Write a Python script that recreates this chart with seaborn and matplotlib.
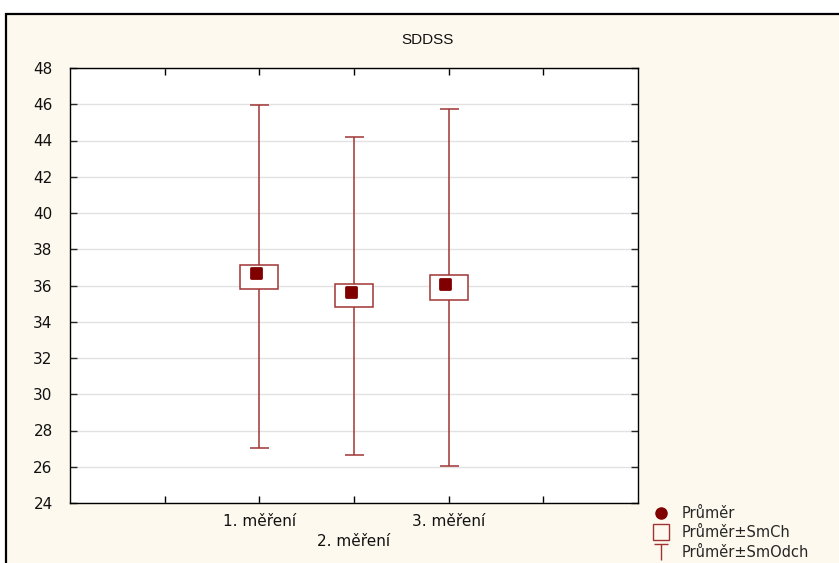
import numpy as np
import pandas as pd
import matplotlib
matplotlib.use("Agg")
import matplotlib.pyplot as plt
import matplotlib.transforms as mtransforms
from matplotlib.patches import Rectangle
from matplotlib.lines import Line2D
from matplotlib.path import Path
import seaborn as sns

# Summary statistics per measurement
categories = ["1. měření", "2. měření", "3. měření"]
means = [36.48, 35.43, 35.89]
std_errors = [0.655, 0.635, 0.665]
std_devs = [9.465, 8.76, 9.85]

title = "SDDSS"
legend_labels = ["Průměr", "Průměr±SmCh", "Průměr±SmOdch"]
y_ticks = list(range(24, 49, 2))

sns.set_style("white")
plt.rcParams["font.family"] = ["DejaVu Sans"]

dark_red = "#800000"
line_red = "#A03434"
cream = "#FDF9EE"
text_col = "#111111"

W, H = 839, 563
fig = plt.figure(figsize=(W / 100, H / 100), dpi=100, facecolor="white")

# Framed panel behind the chart
fig.patches.append(Rectangle((6 / W, -0.1), 1.2, (H - 14) / H + 0.1,
                             transform=fig.transFigure, facecolor=cream,
                             edgecolor="black", linewidth=1.6, zorder=-5))

ax = fig.add_axes([70 / W, (H - 503) / H, (638 - 70) / W, (503 - 68) / H])
ax.set_facecolor("white")

df = pd.DataFrame({"pos": [2, 3, 4], "kategorie": categories, "prumer": means,
                   "se": std_errors, "sd": std_devs})

# Whiskers: mean ± standard deviation
ax.errorbar(df["pos"], df["prumer"], yerr=df["sd"], fmt="none", ecolor=line_red,
            elinewidth=1.1, capsize=9.5 * 0.72, capthick=1.1, zorder=2)

# Boxes: mean ± standard error
ax.bar(df["pos"], 2 * df["se"], bottom=df["prumer"] - df["se"], width=0.4,
       facecolor="white", edgecolor=line_red, linewidth=1.1, zorder=3)

# Mean markers (rounded squares, nudged up-left like the original software)
sns.scatterplot(data=df, x="pos", y="prumer", ax=ax, marker="s", s=42,
                color=dark_red, edgecolor=dark_red, linewidth=2.0,
                joinstyle="round", zorder=4, legend=False)
offset = mtransforms.ScaledTranslation(-3.5 / 100, 3.5 / 100, fig.dpi_scale_trans)
ax.collections[-1].set_offset_transform(ax.transData + offset)

ax.set_xlim(0, 6)
ax.set_ylim(24, 48)
ax.set_yticks(y_ticks)
ax.set_yticklabels([str(v) for v in y_ticks])
ax.grid(axis="y", color="#E2E2E2", linewidth=1.0)
ax.set_axisbelow(True)

ax.set_xticks([2, 3, 4])
ax.set_xticklabels(categories)
ax.set_xticks([1, 5], minor=True)
ax.tick_params(axis="x", which="both", direction="in", length=5, width=1,
               top=True, bottom=True, color="black")
ax.tick_params(axis="x", which="major", pad=8, labelsize=11,
               labelcolor=text_col)
major_ticks = ax.xaxis.get_major_ticks()
major_ticks[1].set_pad(22)
ax.tick_params(axis="y", direction="in", length=5, width=1, left=True,
               right=True, pad=12.5, labelsize=11, labelcolor=text_col)

ax.set_xlabel("")
ax.set_ylabel("")
for side in ax.spines.values():
    side.set_visible(True)
    side.set_color("black")
    side.set_linewidth(1.0)

fig.text(428 / W, (H - 40) / H, title, ha="center", va="center", fontsize=11,
         family=["Liberation Sans Narrow", "Liberation Sans", "DejaVu Sans"],
         color=text_col)

# Legend with custom glyphs
t_path = Path([(0, -1), (0, 1), (-0.8, 1), (0.8, 1)],
              [Path.MOVETO, Path.LINETO, Path.MOVETO, Path.LINETO])
handles = [
    Line2D([], [], linestyle="none", marker="o", markersize=8,
           markerfacecolor=dark_red, markeredgecolor=dark_red),
    Line2D([], [], linestyle="none", marker="s", markersize=11,
           markerfacecolor="none", markeredgecolor=line_red, markeredgewidth=1.0),
    Line2D([], [], linestyle="none", marker=t_path, markersize=12,
           markerfacecolor="none", markeredgecolor=line_red, markeredgewidth=1.0),
]
fig.legend(handles, legend_labels, loc="upper left",
           bbox_to_anchor=(651 / W, (H - 503) / H), frameon=False,
           fontsize=10.5, handlelength=1.0, handletextpad=0.9, labelspacing=0.3,
           borderaxespad=0, borderpad=0.2)

fig.savefig("out.png", dpi=100, facecolor=fig.get_facecolor())
